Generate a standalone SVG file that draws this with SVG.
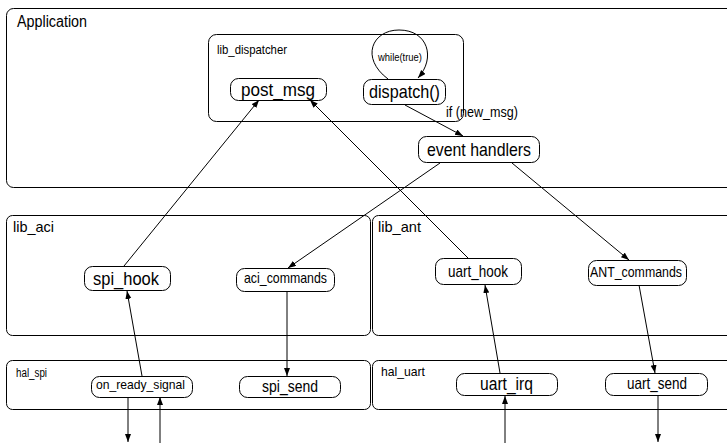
<svg xmlns="http://www.w3.org/2000/svg" width="727" height="443" viewBox="0 0 727 443">
  <defs>
    <marker id="arrow" markerUnits="userSpaceOnUse" markerWidth="10" markerHeight="8" refX="8" refY="3" orient="auto">
      <path d="M0,0 L8,3 L0,6 Z" fill="#000"/>
    </marker>
  </defs>
  <style>
    text { font-family: "Liberation Sans", Arial, Helvetica, sans-serif; fill: #000; }
    .box { fill: none; stroke: #000; stroke-width: 1; }
    .node rect { fill: #fff; stroke: #000; stroke-width: 1; }
    .edge { fill: none; stroke: #000; stroke-width: 1; marker-end: url(#arrow); }
  </style>
  <rect width="727" height="443" fill="#fff"/>

  <!-- layers -->
  <g id="application">
    <rect class="box" x="6.5" y="8.5" width="760" height="179" rx="7"/>
    <text x="17" y="27" font-size="16" textLength="70" lengthAdjust="spacingAndGlyphs">Application</text>
  </g>
  <g id="lib_dispatcher">
    <rect class="box" x="208.5" y="34.5" width="255" height="87" rx="8"/>
    <text x="217" y="54" font-size="13" textLength="70" lengthAdjust="spacingAndGlyphs">lib_dispatcher</text>
  </g>
  <g id="lib_aci">
    <rect class="box" x="6.5" y="215.5" width="364" height="120" rx="6"/>
    <text x="13" y="232" font-size="14.5" textLength="41" lengthAdjust="spacingAndGlyphs">lib_aci</text>
  </g>
  <g id="lib_ant">
    <rect class="box" x="372.5" y="215.5" width="400" height="120" rx="6"/>
    <text x="378" y="232" font-size="14.5" textLength="43" lengthAdjust="spacingAndGlyphs">lib_ant</text>
  </g>
  <g id="hal_spi">
    <rect class="box" x="6.5" y="360.5" width="364" height="49" rx="6"/>
    <text x="16" y="377" font-size="12.5" textLength="31" lengthAdjust="spacingAndGlyphs">hal_spi</text>
  </g>
  <g id="hal_uart">
    <rect class="box" x="372.5" y="360.5" width="400" height="49" rx="6"/>
    <text x="381" y="376" font-size="13" textLength="44" lengthAdjust="spacingAndGlyphs">hal_uart</text>
  </g>

  <!-- nodes -->
  <g id="post_msg" class="node">
    <rect x="230.5" y="78.5" width="96" height="22" rx="8"/>
    <text x="241" y="95.5" font-size="19" textLength="74" lengthAdjust="spacingAndGlyphs">post_msg</text>
  </g>
  <g id="dispatch" class="node">
    <rect x="363.5" y="79.5" width="82" height="25" rx="8"/>
    <text x="369" y="98" font-size="18.5" textLength="71" lengthAdjust="spacingAndGlyphs">dispatch()</text>
  </g>
  <g id="event_handlers" class="node">
    <rect x="418.5" y="136.5" width="121" height="26" rx="8"/>
    <text x="427" y="155.5" font-size="18.5" textLength="104" lengthAdjust="spacingAndGlyphs">event handlers</text>
  </g>
  <g id="spi_hook" class="node">
    <rect x="84.5" y="266.5" width="86" height="24" rx="8"/>
    <text x="93" y="285" font-size="19" textLength="66" lengthAdjust="spacingAndGlyphs">spi_hook</text>
  </g>
  <g id="aci_commands" class="node">
    <rect x="236.5" y="268.5" width="98" height="23" rx="8"/>
    <text x="244" y="283" font-size="14.5" textLength="83" lengthAdjust="spacingAndGlyphs">aci_commands</text>
  </g>
  <g id="uart_hook" class="node">
    <rect x="435.5" y="258.5" width="86" height="26" rx="8"/>
    <text x="448" y="277" font-size="17" textLength="60" lengthAdjust="spacingAndGlyphs">uart_hook</text>
  </g>
  <g id="ANT_commands" class="node">
    <rect x="588.5" y="260.5" width="98" height="25" rx="8"/>
    <text x="590" y="276.5" font-size="15.5" textLength="92" lengthAdjust="spacingAndGlyphs">ANT_commands</text>
  </g>
  <g id="on_ready_signal" class="node">
    <rect x="91.5" y="376.5" width="101" height="21" rx="8"/>
    <text x="96" y="388.5" font-size="13" textLength="89" lengthAdjust="spacingAndGlyphs">on_ready_signal</text>
  </g>
  <g id="spi_send" class="node">
    <rect x="239.5" y="376.5" width="101" height="21" rx="8"/>
    <text x="262" y="391.5" font-size="16.5" textLength="56" lengthAdjust="spacingAndGlyphs">spi_send</text>
  </g>
  <g id="uart_irq" class="node">
    <rect x="456.5" y="373.5" width="101" height="22" rx="8"/>
    <text x="480" y="389.5" font-size="17.5" textLength="53" lengthAdjust="spacingAndGlyphs">uart_irq</text>
  </g>
  <g id="uart_send" class="node">
    <rect x="605.5" y="373.5" width="102" height="22" rx="8"/>
    <text x="627" y="388.5" font-size="16.5" textLength="60" lengthAdjust="spacingAndGlyphs">uart_send</text>
  </g>

  <!-- connectors -->
  <g id="connectors">
    <path class="edge" d="M388,79 C360,58 372,30 399,30 C428,30 436,58 418,78"/>
    <text x="378" y="61" font-size="11" textLength="44" lengthAdjust="spacingAndGlyphs">while(true)</text>
    <line class="edge" x1="405" y1="105" x2="463" y2="136"/>
    <text x="446" y="117" font-size="14" textLength="72" lengthAdjust="spacingAndGlyphs">if (new_msg)</text>
    <line class="edge" x1="440" y1="163" x2="288" y2="268"/>
    <line class="edge" x1="512" y1="163" x2="629" y2="260"/>
    <line class="edge" x1="124" y1="266" x2="259" y2="100"/>
    <line class="edge" x1="468" y1="258" x2="310" y2="100"/>
    <line class="edge" x1="142" y1="376" x2="127" y2="291"/>
    <line class="edge" x1="287" y1="291" x2="287" y2="376"/>
    <line class="edge" x1="500" y1="373" x2="485" y2="285"/>
    <line class="edge" x1="639" y1="285" x2="655" y2="373"/>
    <line class="edge" x1="128" y1="397" x2="128" y2="442"/>
    <line class="edge" x1="160" y1="443" x2="160" y2="397"/>
    <line class="edge" x1="505" y1="443" x2="505" y2="396"/>
    <line class="edge" x1="658" y1="396" x2="658" y2="442"/>
  </g>
</svg>
